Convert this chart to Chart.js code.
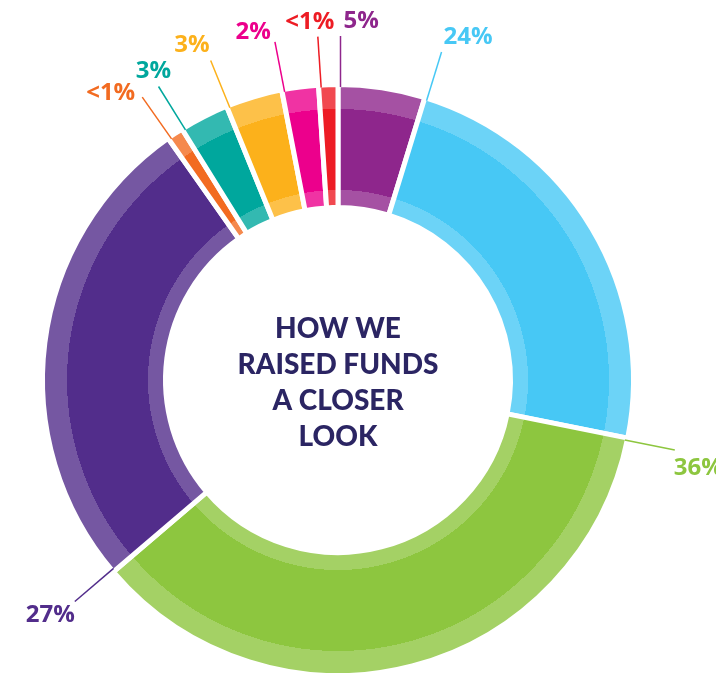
<!DOCTYPE html>
<html>
<head>
<meta charset="utf-8">
<title>How we raised funds</title>
<script src="https://cdn.jsdelivr.net/npm/chart.js@4.4.1/dist/chart.umd.min.js"></script>
<style>
  html, body { margin: 0; padding: 0; background: #fff; }
  #wrap { width: 716px; height: 673px; position: relative; }
</style>
</head>
<body>
<div id="wrap"><canvas id="fundsChart"></canvas></div>
<script>
/**************************************************************
 * 1. Data (slices run clockwise from 12 o'clock)
 **************************************************************/
const categories = ["Source 1", "Source 2", "Source 3", "Source 4", "Source 5",
                    "Source 6", "Source 7", "Source 8", "Source 9"];
const shares = [4.75, 23.4, 35.6, 26.5, 0.9, 2.7, 3.1, 2.0, 1.05];
const shareLabels = ["5%", "24%", "36%", "27%", "<1%", "3%", "3%", "2%", "<1%"];
const centerTitle = ["HOW WE", "RAISED FUNDS", "A CLOSER", "LOOK"];

/**************************************************************
 * 2. Styling
 **************************************************************/
const sliceColors = ["#8e268c", "#47c8f5", "#8dc63f", "#522d8b", "#f26b21",
                     "#00a79d", "#fcb11b", "#ec008c", "#ed1c24"];

// label offset from the end of its leader line: [dx, dy, align]
const labelPlacement = [
  [3, -15, "left"],
  [2, -15, "left"],
  [-1, 18, "left"],
  [0, 14, "right"],
  [-7, -4, "right"],
  [-5, -15, "center"],
  [-1, -15, "right"],
  [-4, -10, "right"],
  [-8, -14, "center"]
];

const GAP = 5;                     // white gap between slices
const RING_OUT = 293;              // visible outer edge
const RING_IN = 175;               // visible inner edge
const OUTER_R = RING_OUT + GAP / 2;
const INNER_R = RING_IN - GAP / 2;
const OUTER_BAND = 22;             // lighter rim on the outside
const INNER_BAND = 15;             // lighter rim on the inside
const LEADER_R = 344;

function lighten(hex, amt) {
  const n = parseInt(hex.slice(1), 16);
  const mix = v => Math.round(v + (255 - v) * amt);
  return `rgb(${mix(n >> 16)}, ${mix((n >> 8) & 255)}, ${mix(n & 255)})`;
}

// radial gradient with hard stops gives the two light rims
function ringFill(c) {
  const base = sliceColors[c.dataIndex];
  const area = c.chart.chartArea;
  if (!area) return base;
  const cx = (area.left + area.right) / 2;
  const cy = (area.top + area.bottom) / 2;
  const light = lighten(base, 0.2);
  const g = c.chart.ctx.createRadialGradient(cx, cy, 0, cx, cy, OUTER_R);
  const a = (RING_IN + INNER_BAND) / OUTER_R;
  const b = (RING_OUT - OUTER_BAND) / OUTER_R;
  g.addColorStop(0, light);
  g.addColorStop(a, light);
  g.addColorStop(a, base);
  g.addColorStop(b, base);
  g.addColorStop(b, light);
  g.addColorStop(1, light);
  return g;
}

/**************************************************************
 * 3. Callouts + centre title
 **************************************************************/
const calloutPlugin = {
  id: "callouts",
  afterDatasetsDraw(chart) {
    const ctx = chart.ctx;
    const arcs = chart.getDatasetMeta(0).data;
    ctx.save();
    arcs.forEach((arc, i) => {
      const { x, y, startAngle } = arc.getProps(["x", "y", "startAngle"], true);
      const ux = Math.cos(startAngle), uy = Math.sin(startAngle);
      const nx = -uy, ny = ux; // towards the inside of the slice
      const off = GAP / 2;
      const sx = x + ux * RING_OUT + nx * off, sy = y + uy * RING_OUT + ny * off;
      const ex = x + ux * LEADER_R + nx * off, ey = y + uy * LEADER_R + ny * off;

      ctx.strokeStyle = sliceColors[i];
      ctx.lineWidth = 1.5;
      ctx.beginPath();
      ctx.moveTo(sx, sy);
      ctx.lineTo(ex, ey);
      ctx.stroke();

      const [dx, dy, align] = labelPlacement[i];
      ctx.font = "700 24px 'Open Sans', sans-serif";
      ctx.fillStyle = sliceColors[i];
      ctx.textAlign = align;
      ctx.textBaseline = "middle";
      ctx.fillText(shareLabels[i], ex + dx, ey + dy);
    });

    const { x, y } = arcs[0].getProps(["x", "y"], true);
    ctx.font = "900 28px Lato, 'Open Sans', sans-serif";
    ctx.fillStyle = "#2b2563";
    ctx.textAlign = "center";
    ctx.textBaseline = "middle";
    const lineH = 36;
    const top = y + 3 - (centerTitle.length - 1) * lineH / 2;
    centerTitle.forEach((t, i) => ctx.fillText(t, x, top + i * lineH));
    ctx.restore();
  }
};

/**************************************************************
 * 4. Chart
 **************************************************************/
const ctx = document.getElementById("fundsChart").getContext("2d");

new Chart(ctx, {
  type: "doughnut",
  data: {
    labels: categories,
    datasets: [{
      data: shares,
      backgroundColor: ringFill,
      borderColor: "#ffffff",
      borderWidth: GAP,
      borderJoinStyle: "miter"
    }]
  },
  options: {
    responsive: true,
    maintainAspectRatio: false,
    animation: false,
    events: [],
    rotation: 0,
    radius: OUTER_R,
    cutout: (INNER_R / OUTER_R * 100).toFixed(3) + "%",
    layout: { padding: { left: 0, right: 40, top: 87, bottom: 0 } },
    plugins: {
      legend: { display: false },
      tooltip: { enabled: false }
    }
  },
  plugins: [calloutPlugin]
});
</script>
</body>
</html>
